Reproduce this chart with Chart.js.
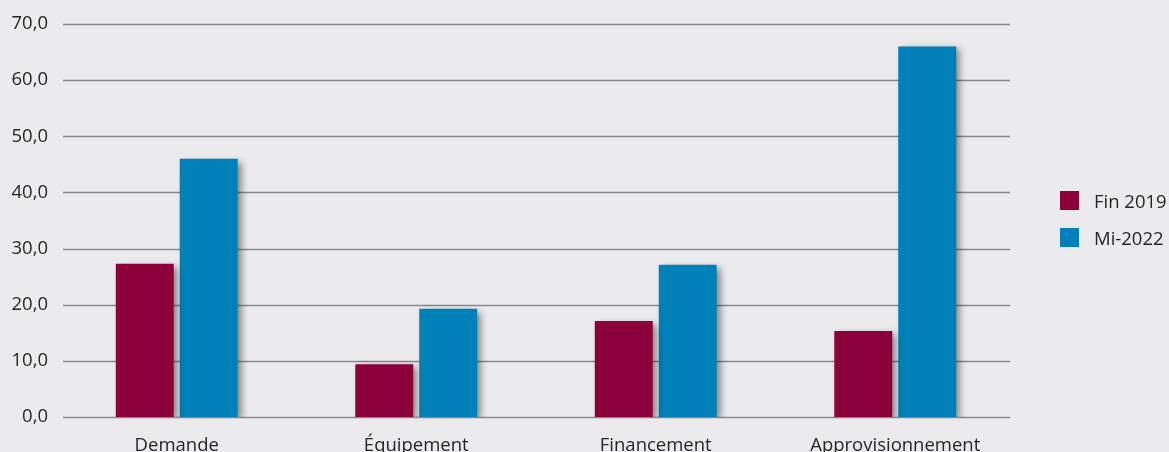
<!DOCTYPE html>
<html>
<head>
<meta charset="utf-8">
<script src="https://cdn.jsdelivr.net/npm/chart.js@4"></script>
<style>
    html, body { margin: 0; padding: 0; background: #ebebed; overflow: hidden; }
    #wrap { position: relative; width: 1169px; height: 452px; }
    #legend { position: absolute; left: 1060px; top: 191px; font-family: 'Open Sans', sans-serif; font-size: 18.5px; color: #262626; }
    .item { display: flex; align-items: center; height: 19px; margin-bottom: 18px; white-space: nowrap; }
    .swatch { width: 19px; height: 19px; margin-right: 15px; }
</style>
</head>
<body>
<div id="wrap">
    <canvas id="chart" width="1169" height="452"></canvas>
    <div id="legend"></div>
</div>
<script>
// Data
const categories = ['Demande', 'Équipement', 'Financement', 'Approvisionnement'];
const seriesNames = ['Fin 2019', 'Mi-2022'];
const fin2019 = [27.3, 9.4, 17.1, 15.3];
const mi2022 = [46.0, 19.3, 27.1, 66.0];
const yTicks = [0, 10, 20, 30, 40, 50, 60, 70];

const colors = ['#8c003b', '#0080b8'];

// Shadow behind bars
const barShadow = {
    id: 'barShadow',
    beforeDatasetsDraw(chart) {
        const ctx = chart.ctx;
        ctx.save();
        ctx.shadowColor = 'rgba(0,0,0,0.45)';
        ctx.shadowBlur = 7;
        ctx.shadowOffsetX = 4;
        ctx.shadowOffsetY = 3;
    },
    afterDatasetsDraw(chart) {
        chart.ctx.restore();
    }
};

// Horizontal grid lines, a bit narrower than the plot area
const gridLines = {
    id: 'gridLines',
    beforeDatasetsDraw(chart) {
        const ctx = chart.ctx;
        const y = chart.scales.y;
        ctx.save();
        ctx.strokeStyle = '#88888c';
        ctx.lineWidth = 1.5;
        yTicks.forEach(v => {
            const py = Math.round(y.getPixelForValue(v)) + 0.5;
            ctx.beginPath();
            ctx.moveTo(63, py);
            ctx.lineTo(1010, py);
            ctx.stroke();
        });
        ctx.restore();
    }
};

const tickFont = { family: 'Open Sans', size: 18.5 };

const chart = new Chart(document.getElementById('chart'), {
    type: 'bar',
    data: {
        labels: categories,
        datasets: [
            { label: seriesNames[0], data: fin2019, backgroundColor: colors[0] },
            { label: seriesNames[1], data: mi2022, backgroundColor: colors[1] }
        ]
    },
    options: {
        responsive: false,
        animation: false,
        devicePixelRatio: 1,
        categoryPercentage: 0.534,
        barPercentage: 0.906,
        layout: { padding: { top: 24, right: 154, left: 0, bottom: 0 } },
        plugins: {
            legend: { display: false },
            tooltip: { enabled: false }
        },
        scales: {
            x: {
                grid: { display: false },
                border: { display: false },
                ticks: {
                    color: '#262626',
                    font: tickFont,
                    padding: 10,
                    maxRotation: 0
                },
                afterFit: s => { s.height = 35; }
            },
            y: {
                min: 0,
                max: 70,
                grid: { display: false },
                border: { display: false },
                afterBuildTicks: s => { s.ticks = yTicks.map(v => ({ value: v })); },
                afterFit: s => { s.width = 57; },
                ticks: {
                    color: '#262626',
                    font: tickFont,
                    padding: 1,
                    callback: v => v.toFixed(1).replace('.', ',')
                }
            }
        }
    },
    plugins: [gridLines, barShadow]
});

// Legend
const legend = document.getElementById('legend');
chart.data.datasets.forEach(ds => {
    const item = document.createElement('div');
    item.className = 'item';
    item.innerHTML = `<span class="swatch" style="background:${ds.backgroundColor}"></span><span>${ds.label}</span>`;
    legend.appendChild(item);
});
</script>
</body>
</html>
